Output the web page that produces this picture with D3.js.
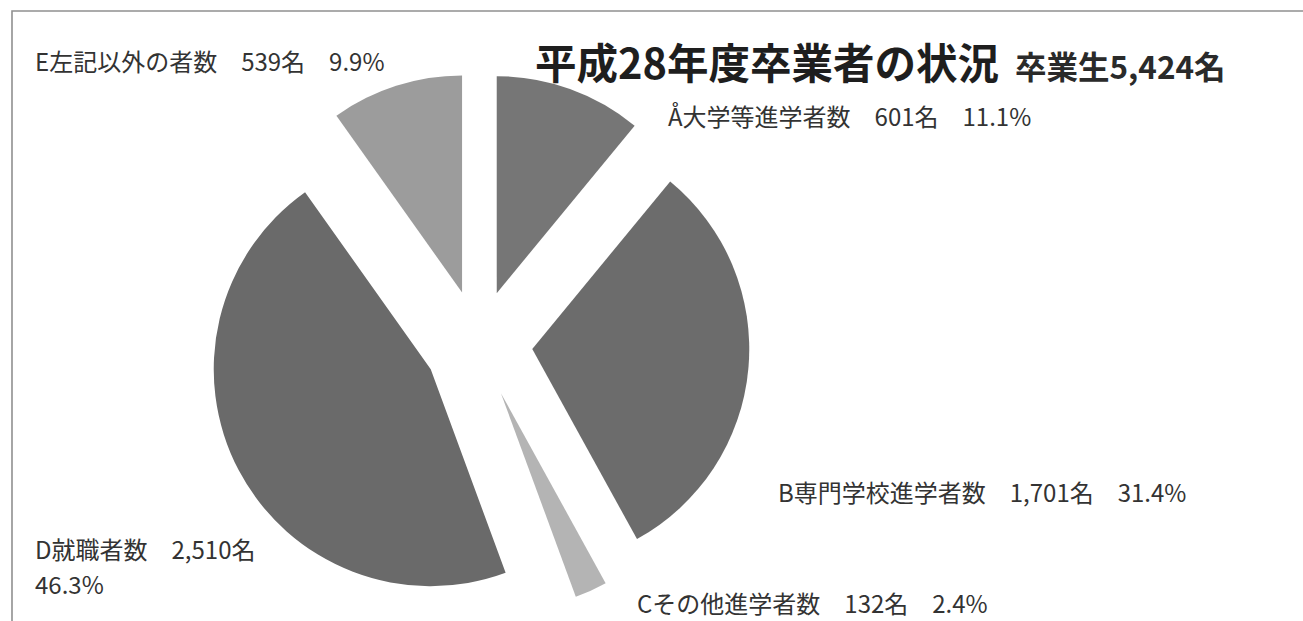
<!DOCTYPE html>
<html><head><meta charset="utf-8">
<script src="https://cdn.jsdelivr.net/npm/d3@7"></script>
<style>
html,body{margin:0;padding:0;background:#fff;}
text{white-space:pre;}
</style></head>
<body><svg id="c" width="1303" height="621"></svg>
<script>
const categories = ["A大学等進学者数","B専門学校進学者数","Cその他進学者数","D就職者数","E左記以外の者数"];
const values = [601, 1701, 132, 2510, 539];
const counts = ["601名","1,701名","132名","2,510名","539名"];
const percents = ["11.1%","31.4%","2.4%","46.3%","9.9%"];
const colors = ["#767676","#6c6c6c","#b4b4b4","#6a6a6a","#9c9c9c"];
const title = "平成28年度卒業者の状況";
const subtitle = "卒業生5,424名";

const svg = d3.select("#c");
const W = 1303, H = 621;
svg.append("rect").attr("width",W).attr("height",H).attr("fill","#fff");
// frame
svg.append("path").attr("d",`M12,${H} L12,11 L${W},11`).attr("fill","none")
  .attr("stroke","#909090").attr("stroke-width",1.6);

const cx = 478.5, cy = 344, R = 217, explode = 54;
const pie = d3.pie().sort(null).value(d=>d)(values);
const arc = d3.arc().innerRadius(0).outerRadius(R);
const g = svg.append("g").attr("transform",`translate(${cx},${cy})`);
g.selectAll("path").data(pie).join("path")
  .attr("d",arc)
  .attr("fill",(d,i)=>colors[i])
  .attr("transform",d=>{
    const a=(d.startAngle+d.endAngle)/2;
    return `translate(${explode*Math.sin(a)},${-explode*Math.cos(a)})`;
  });

const font = "'Noto Sans CJK JP', sans-serif";
svg.append("text").attr("x",535).attr("y",79).attr("font-family",font)
  .attr("font-weight","bold").attr("font-size",41.5).attr("fill","#1e1e1e").text(title);
svg.append("text").attr("x",1015).attr("y",79).attr("font-family",font)
  .attr("font-weight","bold").attr("font-size",31.5).attr("fill","#2a2a2a").text(subtitle);

const sp = "\u3000";
const labels = [
  {x:668, y:126, s:`Å${categories[0].slice(1)}${sp}${counts[0]}${sp}${percents[0]}`},
  {x:778, y:502, s:`${categories[1]}${sp}${counts[1]}${sp}${percents[1]}`},
  {x:637, y:613, s:`${categories[2]}${sp}${counts[2]}${sp}${percents[2]}`},
  {x:35, y:559, s:`${categories[3]}${sp}${counts[3]}`},
  {x:35, y:594, s:percents[3]},
  {x:35, y:71, s:`${categories[4]}${sp}${counts[4]}${sp}${percents[4]}`}
];
labels.forEach(l=>{
  svg.append("text").attr("font-family",font).attr("font-size",24).attr("fill","#333")
    .attr("x",l.x).attr("y",l.y).text(l.s);
});
</script></body></html>
